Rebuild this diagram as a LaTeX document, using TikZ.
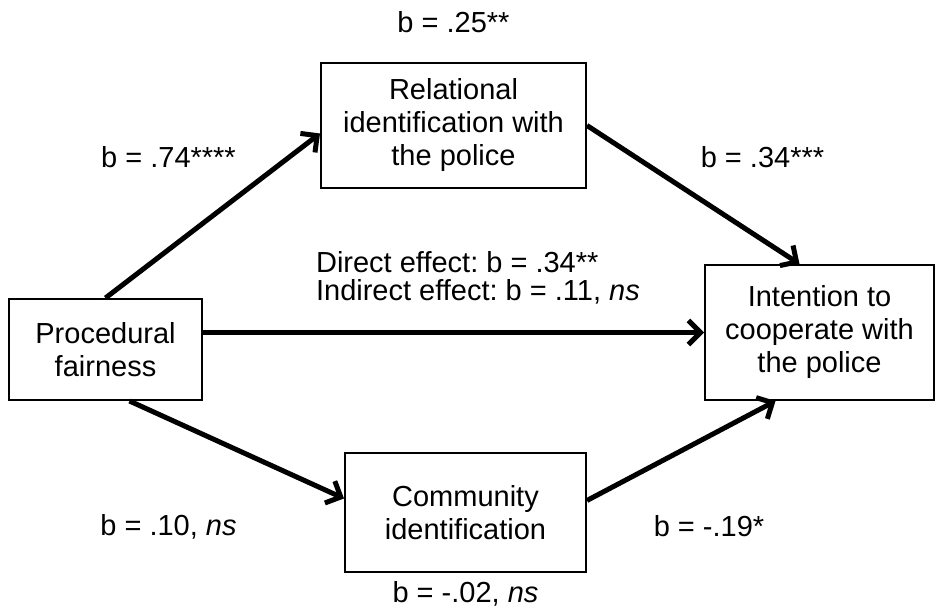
\documentclass[tikz,border=0pt]{standalone}
\usepackage{fontspec}
\setmainfont{Liberation Sans}
\usepackage{tikz}
\usetikzlibrary{arrows.meta,positioning}
\tikzset{
  varbox/.style={draw, line width=1pt, align=center, inner sep=0pt},
  effect/.style={->, line width=2.5pt},
  coef/.style={align=center}
}
\frenchspacing

\begin{document}
\begin{tikzpicture}[x=1pt, y=1pt, every node/.style={font=\fontsize{14.5}{16.5}\selectfont}, >={Straight Barb[length=6pt,width=12pt]}]
  \useasboundingbox (0,0) rectangle (468,304);
  \node[varbox, minimum width=96.5pt, minimum height=50.5pt] (proc) at (52.75,129.25) {Procedural\\fairness};
  \node[varbox, minimum width=132.5pt, minimum height=62.5pt] (rel) at (226.75,241.25) {Relational\\identification with\\the police};
  \node[varbox, minimum width=114.5pt, minimum height=67.5pt] (int) at (409.75,137.75) {Intention to\\cooperate with\\the police};
  \node[varbox, minimum width=120.5pt, minimum height=59.5pt] (com) at (232.75,47.75) {Community\\identification};
  \draw[effect] (proc.north) -- ([yshift=-4pt]rel.west);
  \draw[effect] (rel.east) -- ([xshift=-10pt]int.north);
  \draw[effect] (proc.east |- int.west) -- (int.west);
  \draw[effect] ([xshift=12pt]proc.south) -- ([yshift=7pt]com.west);
  \draw[effect] ([yshift=6pt]com.east) -- ([xshift=-22pt]int.south);
  % coefficients
  \node[coef, above=11pt of rel] (c-rel) {b = .25**};
  \node[coef] (a-rel) at (84.25,225.5) {b = .74****};
  \node[coef] (b-rel) at (381.25,225.5) {b = .34***};
  \node[align=left, anchor=west, font=\fontsize{14.5}{14}\selectfont] (c-dir) at (154.5,165) {Direct effect: b = .34**\\Indirect effect: b = .11, \textit{ns}};
  \node[coef] (a-com) at (84.25,40.5) {b = .10, \textit{ns}};
  \node[coef] (b-com) at (354.5,41) {b = -.19*};
  \node[coef, inner sep=1pt, below=3pt of com] (c-com) {b = -.02, \textit{ns}};
\end{tikzpicture}
\end{document}
